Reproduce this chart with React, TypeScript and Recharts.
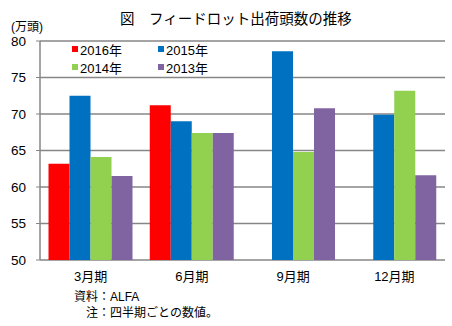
import { Bar, BarChart, CartesianGrid, XAxis, YAxis } from "recharts";

const quarters = ["3月期", "6月期", "9月期", "12月期"];
const y2016 = [63.2, 71.2, null, null];
const y2015 = [72.5, 69.0, 78.6, 69.9];
const y2014 = [64.1, 67.4, 64.8, 73.2];
const y2013 = [61.5, 67.4, 70.8, 61.6];
const yTicks = [50, 55, 60, 65, 70, 75, 80];
const edgeTicks = [0, 1, 2, 3, 4];

const series = [
  { key: "y2016", name: "2016年", color: "#FF0000" },
  { key: "y2015", name: "2015年", color: "#0070C0" },
  { key: "y2014", name: "2014年", color: "#92D050" },
  { key: "y2013", name: "2013年", color: "#8064A2" },
];

const data = quarters.map((q, i) => ({
  quarter: q,
  pos: i + 0.5,
  y2016: y2016[i],
  y2015: y2015[i],
  y2014: y2014[i],
  y2013: y2013[i],
}));

const FONT = "'Liberation Sans', 'Noto Sans CJK JP', sans-serif";
const GRID = "#868686";

function LegendBox() {
  return (
    <div
      style={{
        position: "absolute",
        left: 72,
        top: 42,
        display: "grid",
        gridTemplateColumns: "86px 86px",
        rowGap: 4,
        fontSize: 13,
        color: "#000",
      }}
    >
      {series.map((s) => (
        <div key={s.key} style={{ display: "flex", alignItems: "center", height: 14 }}>
          <span style={{ width: 6, height: 6, background: s.color, marginRight: 2 }} />
          {s.name}
        </div>
      ))}
    </div>
  );
}

export default function App() {
  return (
    <div
      style={{
        position: "absolute",
        left: 0,
        top: 0,
        width: 452,
        height: 326,
        background: "#fff",
        fontFamily: FONT,
      }}
    >
      <BarChart
        width={452}
        height={326}
        data={data}
        margin={{ top: 41, right: 7, left: 0, bottom: 46 }}
        barCategoryGap="8.4%"
        barGap={0}
      >
        <CartesianGrid stroke={GRID} strokeWidth={1.5} vertical={false} />
        <XAxis
          xAxisId="edge"
          type="number"
          dataKey="pos"
          domain={[0, 4]}
          ticks={edgeTicks}
          height={0}
          tick={false}
          tickLine={{ stroke: GRID, strokeWidth: 1.5 }}
          tickSize={5}
          axisLine={{ stroke: GRID, strokeWidth: 1.5 }}
        />
        <XAxis
          dataKey="quarter"
          height={20}
          tickLine={false}
          axisLine={false}
          tick={{ fill: "#000", fontSize: 13 }}
          tickMargin={6}
          interval={0}
        />
        <YAxis
          width={40}
          domain={[50, 80]}
          ticks={yTicks}
          tick={{ fill: "#000", fontSize: 13.5 }}
          tickLine={{ stroke: GRID }}
          tickSize={4}
          tickMargin={10}
          axisLine={{ stroke: GRID, strokeWidth: 1.5 }}
          allowDataOverflow
        />
        {series.map((s) => (
          <Bar key={s.key} dataKey={s.key} name={s.name} fill={s.color} isAnimationActive={false} />
        ))}
      </BarChart>

      <div style={{ position: "absolute", left: 120, top: 7, fontSize: 14.5, whiteSpace: "nowrap" }}>
        図　フィードロット出荷頭数の推移
      </div>
      <div style={{ position: "absolute", left: 11, top: 21, fontSize: 12, lineHeight: "12px" }}>(万頭)</div>
      <LegendBox />
      <div style={{ position: "absolute", left: 74, top: 287, fontSize: 12 }}>資料：ALFA</div>
      <div style={{ position: "absolute", left: 86, top: 303, fontSize: 12 }}>注：四半期ごとの数値。</div>
    </div>
  );
}
